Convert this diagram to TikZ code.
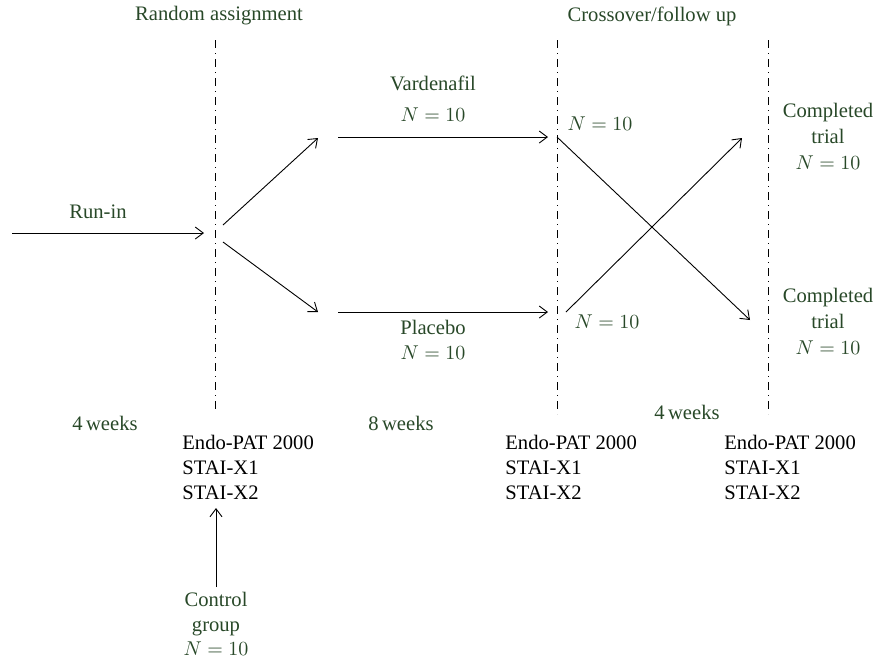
\documentclass[tikz,border=0pt]{standalone}
\usepackage{fontspec}
\setmainfont{Liberation Serif}
\usetikzlibrary{arrows.meta}
\definecolor{txtgreen}{RGB}{40,72,40}
\begin{document}
\begin{tikzpicture}[x=0.5pt,y=-0.5pt,
  font=\fontsize{10.3}{12.4}\selectfont,
  lbl/.style={text=txtgreen, align=center, inner sep=0pt},
  meas/.style={align=left, inner sep=0pt, anchor=north west},
  phase/.style={line width=0.45pt, dash pattern=on 4pt off 2.5pt on 0.5pt off 2.5pt},
  flow/.style={line width=0.45pt, -{Straight Barb[length=4pt,width=6pt]}}]
\useasboundingbox (0,0) rectangle (877,661);

\node [lbl] (rand) at (219,16) {Random assignment};
\node [lbl] (cross) at (652,16) {Crossover/follow up};

\draw [phase] (215,40) -- (215,409);
\draw [phase] (557,40) -- (557,414);
\draw [phase] (768,40) -- (768,414);

\node [lbl] (runin) at (98,212) {Run-in};
\coordinate (runS) at (12,233);
\coordinate (runE) at (204,233);
\draw [flow] (runS) -- (runE);

\coordinate (upS) at (223,225);
\coordinate (upE) at (318,138);
\coordinate (dnS) at (223,242);
\coordinate (dnE) at (318,312);
\draw [flow] (upS) -- (upE);
\draw [flow] (dnS) -- (dnE);

\node [lbl] (varde) at (433,99) {Vardenafil\\[3pt] $N = 10$};
\coordinate (vardS) at (338,137);
\coordinate (vardE) at (548,137);
\draw [flow] (vardS) -- (vardE);

\node [lbl] (plac) at (433,340) {Placebo\\ $N = 10$};
\coordinate (placS) at (338,312);
\coordinate (placE) at (548,312);
\draw [flow] (placS) -- (placE);

\node [lbl] (nA) at (600,124) {$N = 10$};
\node [lbl] (nB) at (607,322) {$N = 10$};

\coordinate (xaS) at (557,137);
\coordinate (xaE) at (750,320);
\coordinate (xbS) at (566,312);
\coordinate (xbE) at (742,138);
\draw [flow] (xaS) -- (xaE);
\draw [flow] (xbS) -- (xbE);

\node [lbl] (doneA) at (828,136) {Completed\\[0.6pt] trial\\[0.6pt] $N = 10$};
\node [lbl] (doneB) at (828,321) {Completed\\[0.6pt] trial\\[0.6pt] $N = 10$};

\node [lbl] (wkA) at (105,423) {4\,weeks};
\node [lbl] (wkB) at (401,423) {8\,weeks};
\node [lbl] (wkC) at (687,412) {4\,weeks};

\node [meas] (testA) at (182,435) {Endo-PAT 2000\\ STAI-X1\\ STAI-X2};
\node [meas] (testB) at (505,435) {Endo-PAT 2000\\ STAI-X1\\ STAI-X2};
\node [meas] (testC) at (724,435) {Endo-PAT 2000\\ STAI-X1\\ STAI-X2};

\node [lbl] (ctrl) at (216,624) {Control\\ group\\ $N = 10$};
\coordinate (ctrlS) at (216,587);
\coordinate (ctrlE) at (216,508);
\draw [flow] (ctrlS) -- (ctrlE);

\end{tikzpicture}
\end{document}
